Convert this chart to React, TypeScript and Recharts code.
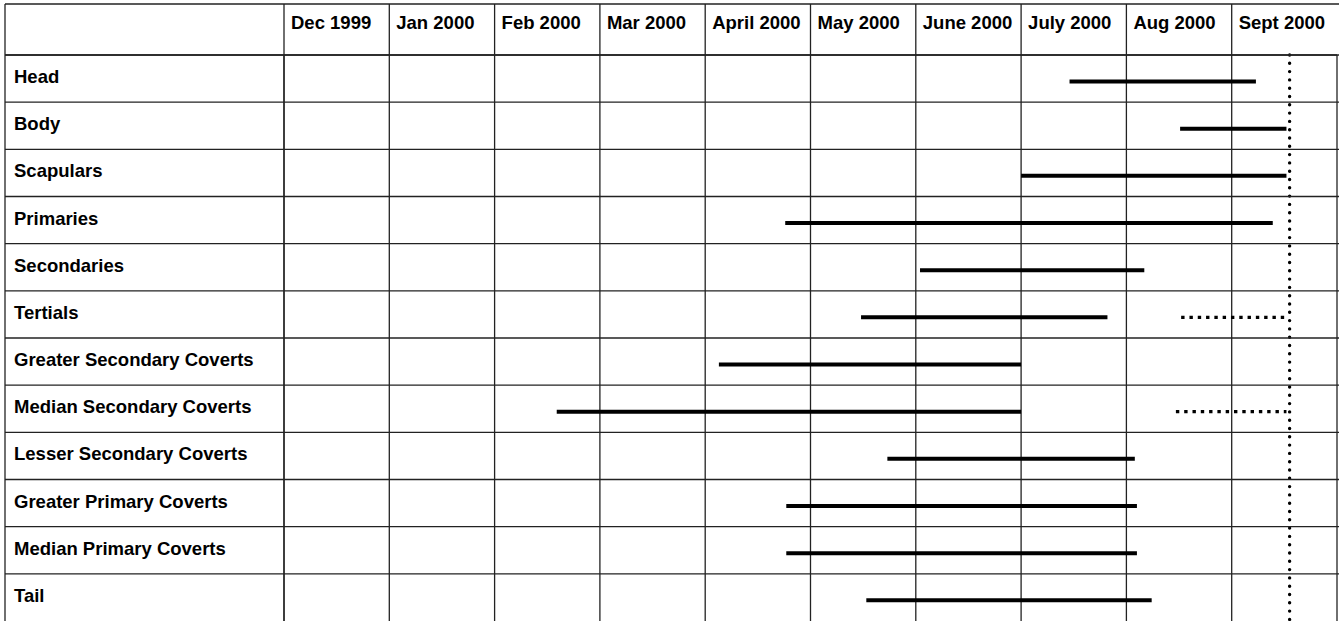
import React from "react";
import {
  BarChart,
  Bar,
  XAxis,
  YAxis,
  CartesianGrid,
  ReferenceLine,
  Customized,
} from "recharts";

// feather tracts, top to bottom
const parts = [
  "Head",
  "Body",
  "Scapulars",
  "Primaries",
  "Secondaries",
  "Tertials",
  "Greater Secondary Coverts",
  "Median Secondary Coverts",
  "Lesser Secondary Coverts",
  "Greater Primary Coverts",
  "Median Primary Coverts",
  "Tail",
];

const months = [
  "Dec 1999",
  "Jan 2000",
  "Feb 2000",
  "Mar 2000",
  "April 2000",
  "May 2000",
  "June 2000",
  "July 2000",
  "Aug 2000",
  "Sept 2000",
];

// months since 1 Dec 1999
const moultStart = [7.46, 8.51, 7.0, 4.76, 6.04, 5.48, 4.13, 2.59, 5.73, 4.77, 4.77, 5.53];
const moultEnd = [9.23, 9.52, 9.52, 9.39, 8.17, 7.82, 7.0, 7.0, 8.08, 8.1, 8.1, 8.24];
const uncertainStart = [null, null, null, null, null, 8.52, null, 8.47, null, null, null, null];
const uncertainEnd = [null, null, null, null, null, 9.5, null, 9.52, null, null, null, null];
const lastObservation = 9.55;

const W = 1339;
const H = 621;
const LEFT = 5;
const TOP = 4;
const HEADER_H = 51;
const LABEL_W = 279;
const BAND_H = (H - TOP - HEADER_H) / parts.length;
const LINE = "#222";
const FONT = "'Liberation Sans', Arial, Helvetica, sans-serif";

const rows = parts.map((part, i) => ({
  part,
  moult: [moultStart[i], moultEnd[i]],
  uncertain:
    uncertainStart[i] != null ? [uncertainStart[i], uncertainEnd[i]] : null,
}));

const monthTicks = months.map((_, i) => i);

function MonthTick({ x, y, payload }: any) {
  const label = months[payload.value];
  if (!label) return null;
  return (
    <text
      x={x + 7}
      y={y + 24.5}
      fontFamily={FONT}
      fontWeight="bold"
      fontSize={18.5}
      fill="#000"
    >
      {label}
    </text>
  );
}

function PartTick({ y, payload }: any) {
  const top = y - BAND_H / 2;
  return (
    <g>
      <line x1={LEFT} x2={W} y1={top} y2={top} stroke={LINE} strokeWidth={1.3} />
      <text
        x={LEFT + 9}
        y={y + 4.5}
        fontFamily={FONT}
        fontWeight="bold"
        fontSize={18.5}
        fill="#000"
      >
        {payload.value}
      </text>
    </g>
  );
}

function Segment(dotted: boolean) {
  return (props: any) => {
    const { x, y, width, height } = props;
    if (!isFinite(x) || !isFinite(width) || width <= 0) return null;
    const cy = y + height / 2 + 2.5;
    return (
      <line
        x1={x}
        x2={x + width}
        y1={cy}
        y2={cy}
        stroke="#000"
        strokeWidth={dotted ? 3.4 : 4}
        strokeDasharray={dotted ? "3.4 4.9" : undefined}
      />
    );
  };
}

// outer frame and the header cell of the label column
function Frame() {
  return (
    <g>
      <line x1={LEFT} x2={W} y1={TOP} y2={TOP} stroke={LINE} strokeWidth={1.3} />
      <line x1={LEFT} x2={LEFT} y1={TOP} y2={H} stroke={LINE} strokeWidth={1.3} />
      <line
        x1={LEFT}
        x2={LEFT + LABEL_W}
        y1={TOP + HEADER_H}
        y2={TOP + HEADER_H}
        stroke={LINE}
        strokeWidth={1.3}
      />
    </g>
  );
}

export default function App() {
  return (
    <div
      style={{
        position: "absolute",
        left: 0,
        top: 0,
        width: W,
        height: H,
        background: "#fff",
      }}
    >
      <BarChart
        layout="vertical"
        width={W}
        height={H}
        data={rows}
        margin={{ top: TOP, right: 2, bottom: 0, left: LEFT }}
        barSize={4}
        barGap={-4}
      >
        <CartesianGrid horizontal={false} stroke={LINE} strokeWidth={1.3} />
        <XAxis
          type="number"
          orientation="top"
          domain={[0, months.length]}
          ticks={monthTicks}
          interval={0}
          height={HEADER_H}
          tickSize={HEADER_H}
          tickMargin={0}
          tickLine={{ stroke: LINE, strokeWidth: 1.3 }}
          axisLine={{ stroke: LINE, strokeWidth: 1.3 }}
          tick={<MonthTick />}
        />
        <YAxis
          type="category"
          dataKey="part"
          width={LABEL_W}
          interval={0}
          tickLine={false}
          axisLine={{ stroke: LINE, strokeWidth: 1.3 }}
          tick={<PartTick />}
        />
        <Bar dataKey="moult" shape={Segment(false)} isAnimationActive={false} />
        <Bar dataKey="uncertain" shape={Segment(true)} isAnimationActive={false} />
        <ReferenceLine
          x={lastObservation}
          stroke="#000"
          strokeWidth={3.4}
          strokeDasharray="0 8.3"
          strokeLinecap="round"
        />
        <Customized component={Frame} />
      </BarChart>
    </div>
  );
}
